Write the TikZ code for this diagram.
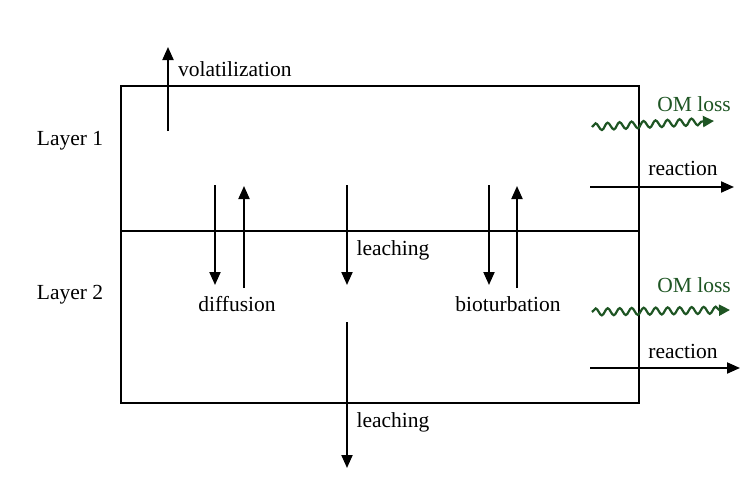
\documentclass[tikz,border=0pt]{standalone}
\usepackage{fontspec}
\setmainfont{Liberation Serif}
\usetikzlibrary{arrows.meta,decorations.pathmorphing}
\definecolor{omgreen}{RGB}{30,85,35}
\begin{document}
\begin{tikzpicture}[x=1pt,y=-1pt,
  lbl/.style={font=\fontsize{21.5}{25}\selectfont, inner sep=0pt},
  omlbl/.style={lbl, text=omgreen},
  flow/.style={line width=2pt, -{Triangle[length=13pt,width=11pt]}},
  boxline/.style={line width=1.8pt},
  wavy/.style={line width=2.2pt, draw=omgreen, decorate,
    decoration={snake, amplitude=3.5pt, segment length=12pt, post length=8pt},
    -{Triangle[length=11pt,width=11pt]}}]
\useasboundingbox (0,0) rectangle (748,477);
% box
\node[boxline, draw, minimum width=518pt, minimum height=317pt, inner sep=0pt, anchor=north west] (box) at (120,85) {};
\coordinate (midL) at (120,231);
\coordinate (midR) at (638,231);
\draw[boxline] (midL) -- (midR);
% layer labels
\node[lbl] (l1) at (70,141) {Layer 1};
\node[lbl] (l2) at (70,295) {Layer 2};
% volatilization
\coordinate (v0) at (168,131);
\coordinate (v1) at (168,47);
\draw[flow] (v0) -- (v1);
\node[lbl, anchor=west] (vol) at (178,69) {volatilization};
% diffusion
\coordinate (d1a) at (215,185); \coordinate (d1b) at (215,285);
\coordinate (d2a) at (244,288); \coordinate (d2b) at (244,186);
\draw[flow] (d1a) -- (d1b);
\draw[flow] (d2a) -- (d2b);
\node[lbl] (diff) at (237,304) {diffusion};
% leaching 1
\coordinate (la) at (347,185); \coordinate (lb) at (347,285);
\draw[flow] (la) -- (lb);
\node[lbl] (leach1) at (393,250) {leaching};
% leaching 2
\coordinate (ma) at (347,322); \coordinate (mb) at (347,468);
\draw[flow] (ma) -- (mb);
\node[lbl] (leach2) at (393,422) {leaching};
% bioturbation
\coordinate (b1a) at (489,185); \coordinate (b1b) at (489,285);
\coordinate (b2a) at (517,288); \coordinate (b2b) at (517,186);
\draw[flow] (b1a) -- (b1b);
\draw[flow] (b2a) -- (b2b);
\node[lbl] (biot) at (508,304) {bioturbation};
% OM loss top
\coordinate (w1a) at (592,127); \coordinate (w1b) at (714,121);
\draw[wavy] (w1a) -- (w1b);
\node[omlbl] (om1) at (694,104) {OM loss};
% reaction top
\coordinate (r1a) at (590,187); \coordinate (r1b) at (734,187);
\draw[flow] (r1a) -- (r1b);
\node[lbl] (re1) at (683,168) {reaction};
% OM loss bottom
\coordinate (w2a) at (592,312); \coordinate (w2b) at (730,310);
\draw[wavy] (w2a) -- (w2b);
\node[omlbl] (om2) at (694,285) {OM loss};
% reaction bottom
\coordinate (r2a) at (590,368); \coordinate (r2b) at (740,368);
\draw[flow] (r2a) -- (r2b);
\node[lbl] (re2) at (683,351) {reaction};
\end{tikzpicture}
\end{document}
